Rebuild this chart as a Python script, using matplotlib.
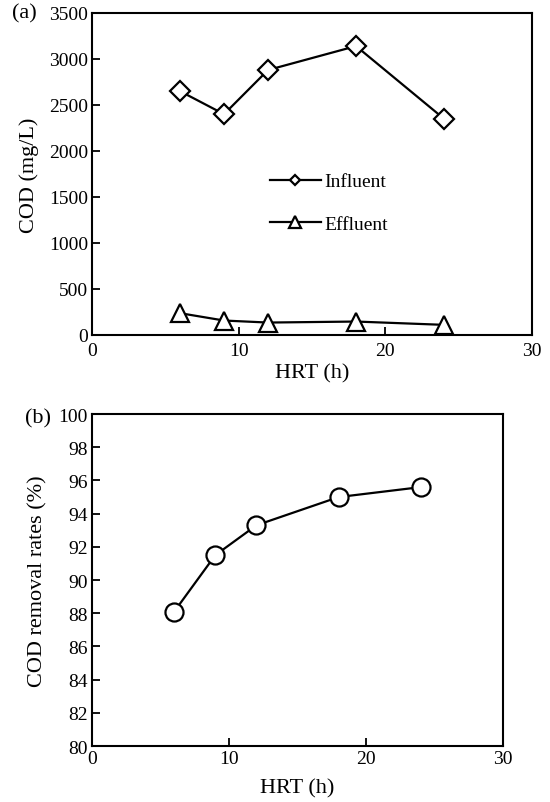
#!/usr/bin/env python3
"""COD vs HRT: (a) influent/effluent COD, (b) COD removal rate."""

import matplotlib

matplotlib.use("Agg")
import matplotlib.pyplot as plt
from matplotlib.lines import Line2D

# data
hrt = [6, 9, 12, 18, 24]
influent_cod = [2650, 2400, 2880, 3140, 2350]
effluent_cod = [237, 157, 135, 146, 110]
removal_rate = [88.1, 91.5, 93.3, 95.0, 95.6]

x_ticks = [0, 10, 20, 30]
cod_ticks = [0, 500, 1000, 1500, 2000, 2500, 3000, 3500]
rate_ticks = [80, 82, 84, 86, 88, 90, 92, 94, 96, 98, 100]

plt.rcParams.update(
    {
        "font.family": "Liberation Serif",
        "font.size": 14,
        "axes.linewidth": 1.5,
        "xtick.direction": "in",
        "ytick.direction": "in",
        "xtick.major.size": 6,
        "ytick.major.size": 6,
        "xtick.major.width": 1.3,
        "ytick.major.width": 1.3,
        "ytick.major.pad": 3,
    }
)

fig = plt.figure(figsize=(5.5, 8.03), dpi=100)
ax1 = fig.add_axes([0.1673, 0.5816, 0.8, 0.401])
ax2 = fig.add_axes([0.1673, 0.0697, 0.7473, 0.4134])

line_kw = dict(color="black", linewidth=1.6, markerfacecolor="white",
               markeredgecolor="black", markeredgewidth=1.6)

# panel (a)
ax1.plot(hrt, influent_cod, marker="D", markersize=10.5, **line_kw)
ax1.plot(hrt, effluent_cod, marker="^", markersize=13, **line_kw)
ax1.set_xlim(0, 30)
ax1.set_ylim(0, 3500)
ax1.set_xticks(x_ticks)
ax1.set_yticks(cod_ticks)
ax1.tick_params(axis="x", pad=5)
ax1.set_xlabel("HRT (h)", fontsize=16, labelpad=3)
ax1.set_ylabel("COD (mg/L)", fontsize=16, labelpad=7)

handles = [
    Line2D([], [], marker="D", markersize=5.5, **line_kw),
    Line2D([], [], marker="^", markersize=9, **line_kw),
]
ax1.legend(handles, ["Influent", "Effluent"], loc="center left",
           bbox_to_anchor=(0.4045, 0.41), frameon=False, borderpad=0,
           borderaxespad=0, handlelength=2.6, handletextpad=0.2,
           labelspacing=1.3, numpoints=1, fontsize=14)

# panel (b)
ax2.plot(hrt, removal_rate, marker="o", markersize=13, **line_kw)
ax2.set_xlim(0, 30)
ax2.set_ylim(80, 100)
ax2.set_xticks(x_ticks)
ax2.set_yticks(rate_ticks)
ax2.tick_params(axis="x", pad=3)
ax2.set_xlabel("HRT (h)", fontsize=16, labelpad=8)
ax2.set_ylabel("COD removal rates (%)", fontsize=16, labelpad=8)

fig.text(0.045, 1 - 14 / 803, "(a)", fontsize=16, ha="center", va="center")
fig.text(0.069, 1 - 419 / 803, "(b)", fontsize=16, ha="center", va="center")

fig.savefig("out.png", dpi=100)
